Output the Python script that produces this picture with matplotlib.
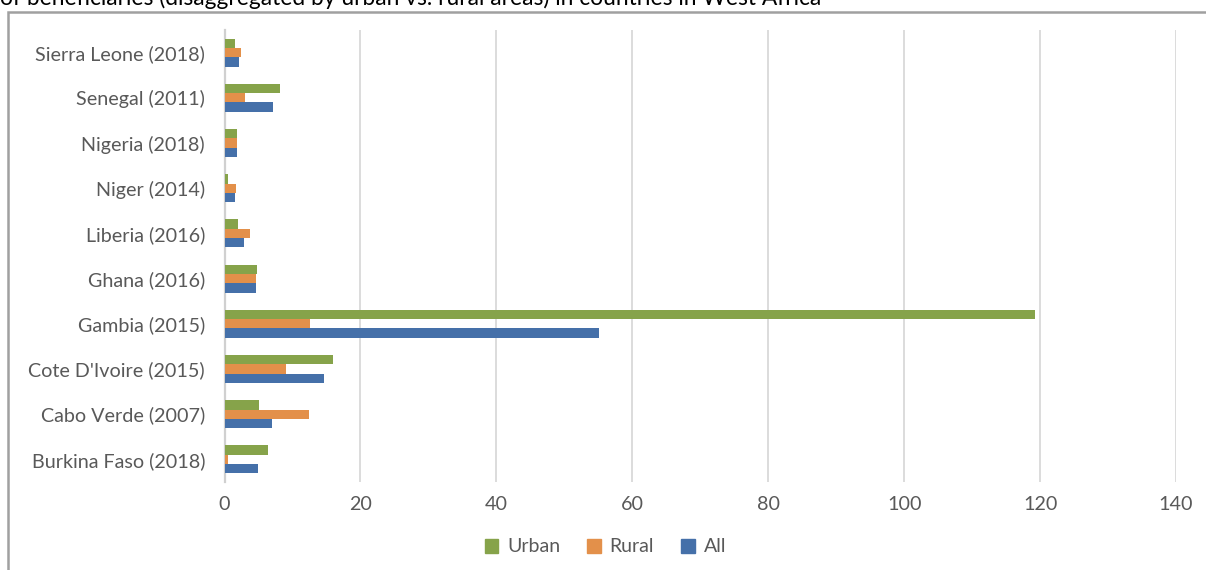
import numpy as np
import matplotlib.pyplot as plt
from matplotlib.patches import Rectangle, Patch

# dados (de baixo para cima)
paises = ['Burkina Faso (2018)', 'Cabo Verde (2007)', "Cote D'Ivoire (2015)", 'Gambia (2015)',
          'Ghana (2016)', 'Liberia (2016)', 'Niger (2014)', 'Nigeria (2018)',
          'Senegal (2011)', 'Sierra Leone (2018)']
urban = [6.4, 5.1, 16.0, 119.2, 4.8, 2.0, 0.5, 1.9, 8.2, 1.5]
rural = [0.5, 12.5, 9.1, 12.6, 4.6, 3.75, 1.7, 1.9, 3.0, 2.4]
todos = [5.0, 7.0, 14.7, 55.1, 4.7, 2.9, 1.5, 1.9, 7.1, 2.1]
xticks = [0, 20, 40, 60, 80, 100, 120, 140]

cor_urban = '#86A34A'
cor_rural = '#E3904A'
cor_all = '#4570A9'
cinza = '#595959'

plt.rcParams['font.family'] = ['Lato', 'DejaVu Sans']

fig = plt.figure(figsize=(12.06, 5.70), dpi=100)
ax = fig.add_axes([224.5 / 1206, 88 / 570, 951.5 / 1206, 452 / 570])

y = np.arange(len(paises))
h = 0.207
ax.barh(y + h, urban, height=h, color=cor_urban, label='Urban', zorder=3)
ax.barh(y, rural, height=h, color=cor_rural, label='Rural', zorder=3)
ax.barh(y - h, todos, height=h, color=cor_all, label='All', zorder=3)

ax.set_xlim(0, 140)
ax.set_ylim(-0.5, len(paises) - 0.5)
ax.set_xticks(xticks)
ax.set_yticks(y)
ax.set_yticklabels(paises)
ax.tick_params(axis='both', length=0, labelsize=14.2, colors=cinza)
ax.tick_params(axis='x', pad=10)
ax.tick_params(axis='y', pad=14)
ax.grid(axis='x', color='#D9D9D9', linewidth=1.3, zorder=0)
for s in ['top', 'right', 'bottom']:
    ax.spines[s].set_visible(False)
ax.spines['left'].set_color('#D0D0D0')
ax.spines['left'].set_linewidth(1.6)

# legenda
handles = [Patch(color=cor_urban, label='Urban'), Patch(color=cor_rural, label='Rural'),
           Patch(color=cor_all, label='All')]
fig.legend(handles=handles, loc='center', bbox_to_anchor=(0.502, 1 - 547 / 570), ncol=3,
           frameon=False, fontsize=14, labelcolor=cinza, handlelength=0.7, handleheight=0.7,
           columnspacing=1.4, handletextpad=0.45)

# moldura
fig.patches.append(Rectangle((8 / 1206, -0.1), 1.2, 1.1 - 12 / 570, transform=fig.transFigure,
                             fill=False, edgecolor='#A0A0A0', linewidth=1.8))

# título cortado (como na imagem original)
fig.text(0, 1 - 5 / 570, 'of beneficiaries (disaggregated by urban vs. rural areas) in countries in West Africa',
         fontsize=16.4, color='black', va='baseline', ha='left')

fig.savefig('out.png', dpi=100)
